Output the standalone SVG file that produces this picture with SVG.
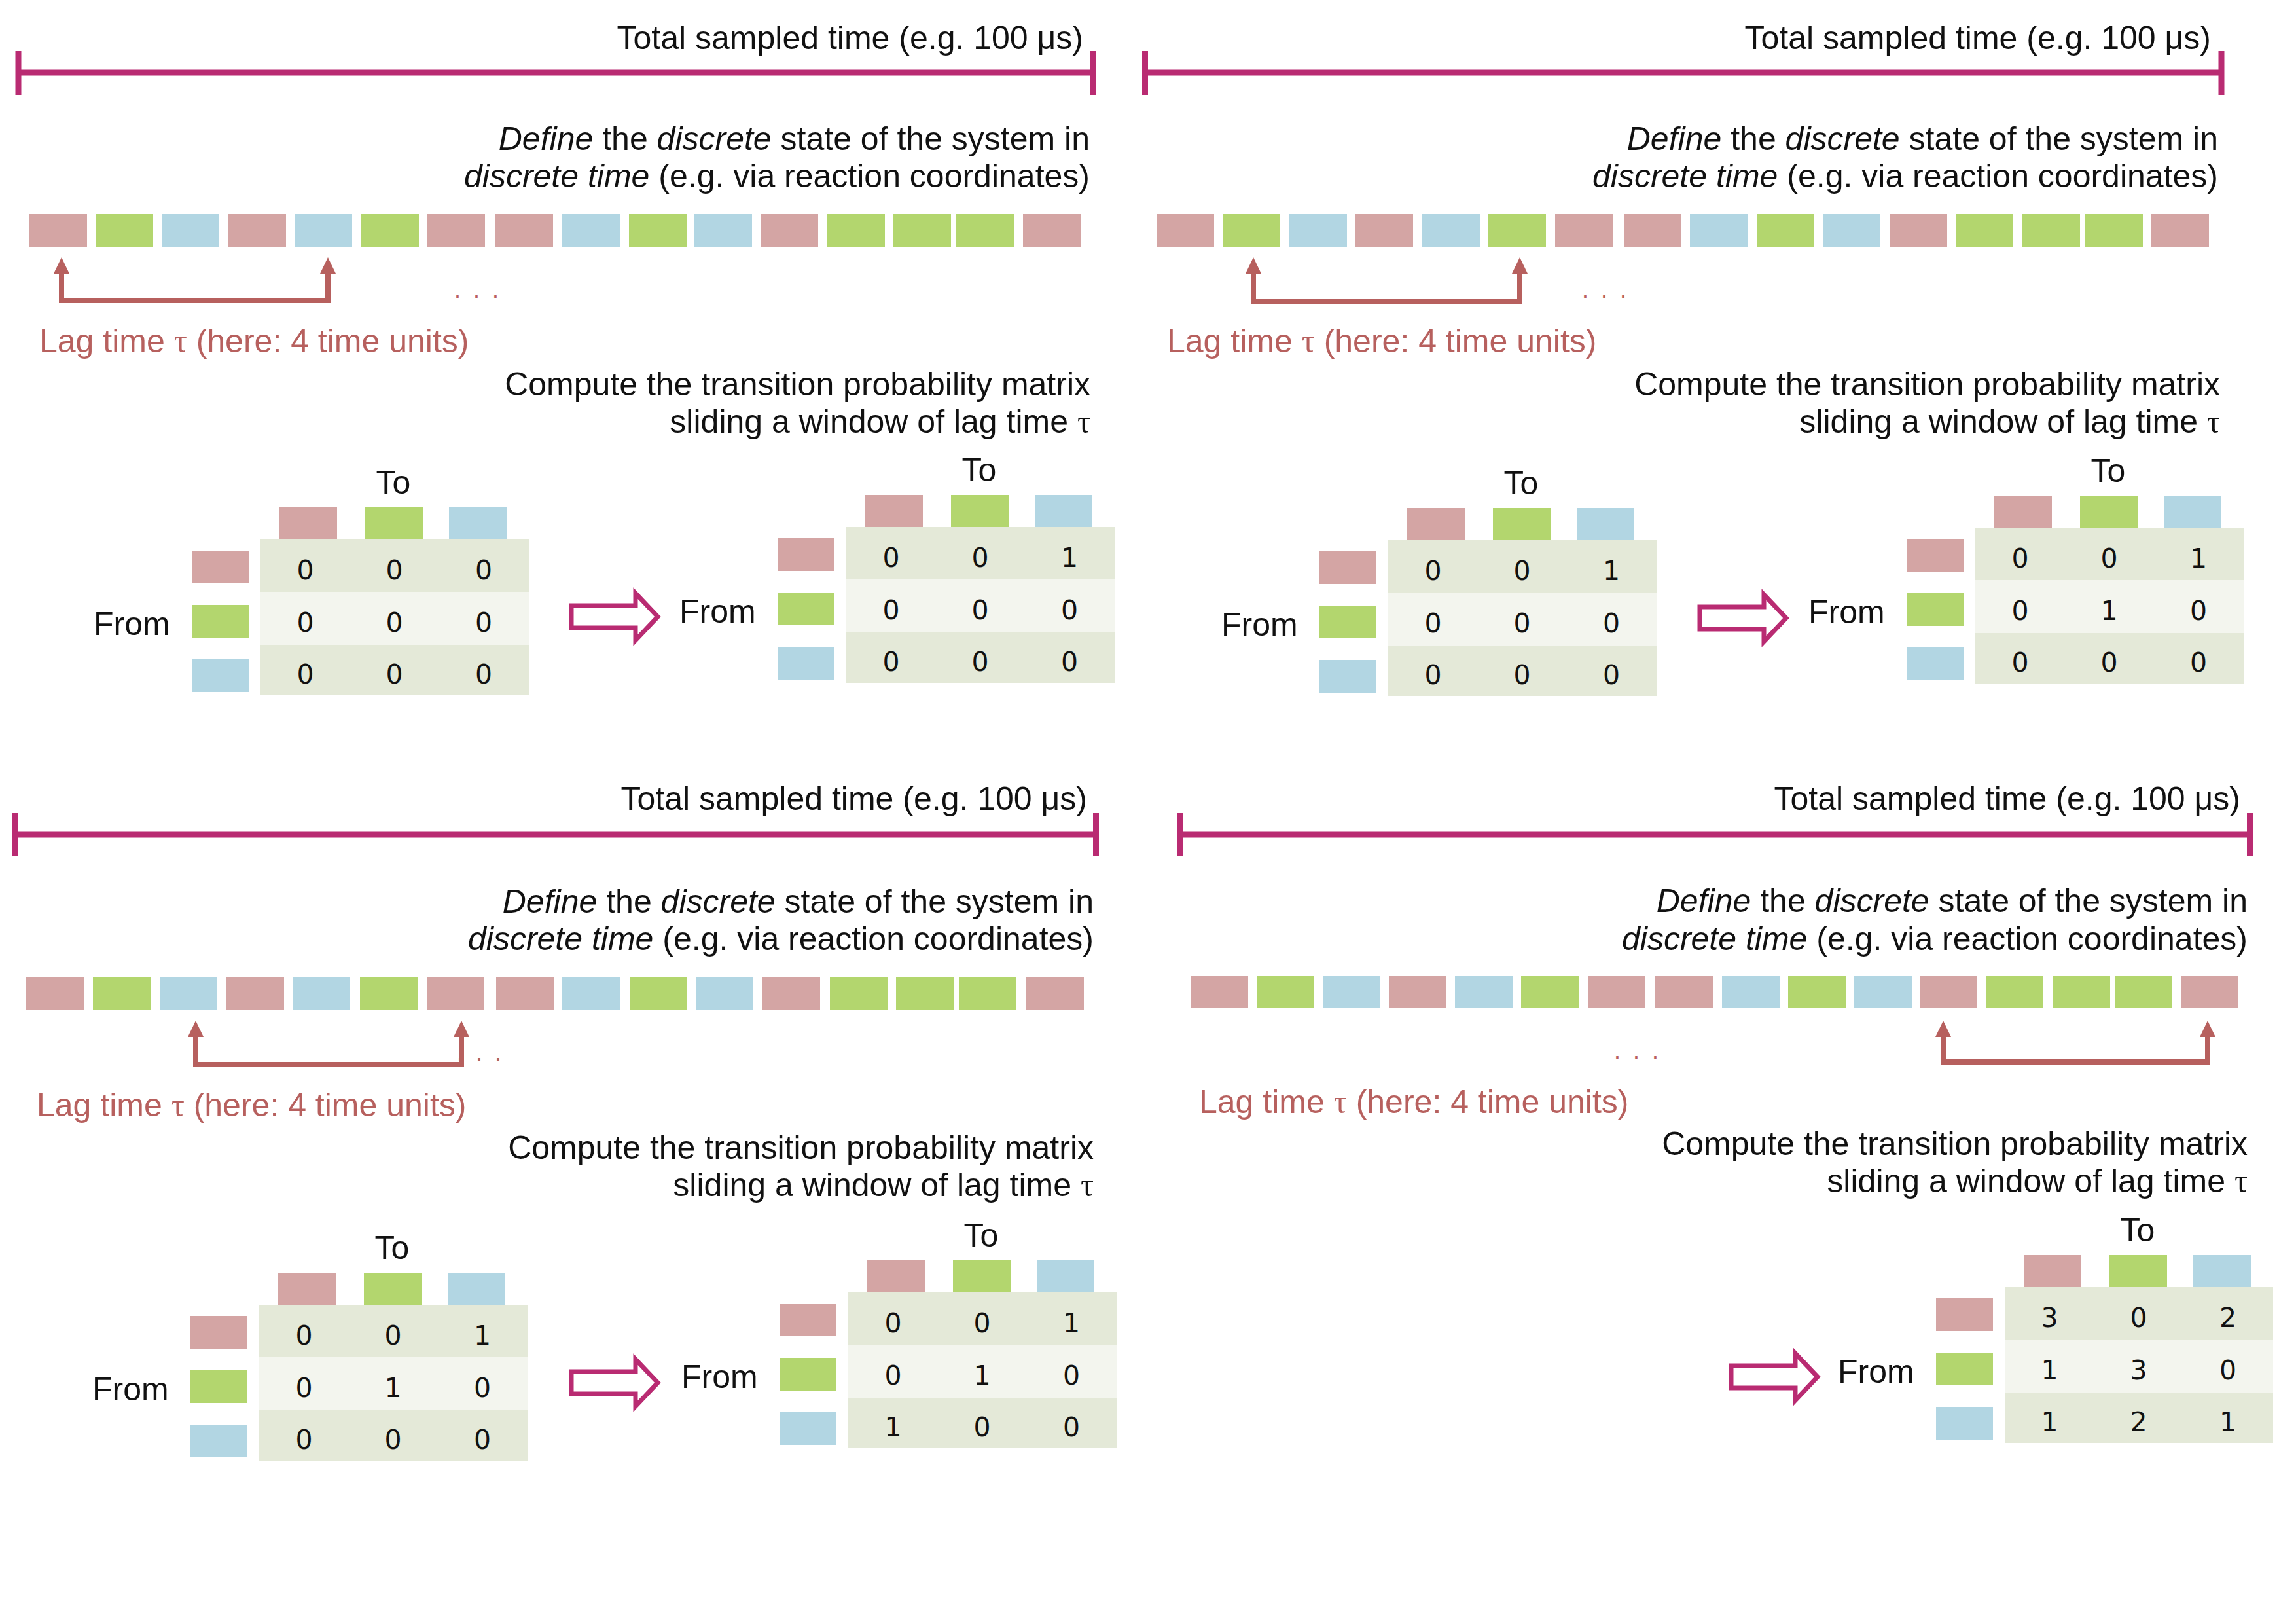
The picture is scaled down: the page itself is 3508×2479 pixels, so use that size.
<svg xmlns="http://www.w3.org/2000/svg" xmlns:xlink="http://www.w3.org/1999/xlink" width="3508" height="2479" viewBox="0 0 3508 2479">
<style>
.t{font-family:"Liberation Sans",Arial,sans-serif;font-size:50px;fill:#111}
.e{text-anchor:end}
.i{font-style:italic}
.tau{font-family:"Liberation Serif","Times New Roman",serif}
.lag{font-family:"Liberation Sans",Arial,sans-serif;font-size:50px;fill:#B7605E}
.dots{font-family:"Liberation Sans",Arial,sans-serif;font-size:36px;fill:#B7605E;letter-spacing:4.5px}
.n{font-family:"DejaVu Sans","Liberation Sans",sans-serif;font-size:41px;fill:#111;text-anchor:middle}
.mid{text-anchor:middle}
.p{fill:#D4A5A4}.g{fill:#B3D66E}.b{fill:#B2D6E3}
.ra{fill:#E4E9D8}.rb{fill:#F3F5EE}
.bar{stroke:#B92B72;stroke-width:9;fill:none}
.lagline{stroke:#B7605E;stroke-width:8;fill:none;stroke-linejoin:miter}
.laghead{fill:#B7605E}
.barrow{fill:#fff;stroke:#B92B72;stroke-width:7;stroke-linejoin:miter;stroke-miterlimit:10}
</style>
<defs>
<path id="head" d="M0 0 L-12 25 L12 25 Z"/>
<path id="blockArrow" d="M3 -17 H101 V-36 L135 0 L101 36 V17 H3 Z"/>
<g id="matrixFrame">
<rect class="ra" x="0" y="0" width="410" height="80"/>
<rect class="rb" x="0" y="80" width="410" height="81"/>
<rect class="ra" x="0" y="161" width="410" height="77"/>
<rect class="p" x="29" y="-49" width="88" height="49"/>
<rect class="g" x="160" y="-49" width="88" height="49"/>
<rect class="b" x="288" y="-49" width="88" height="49"/>
<rect class="p" x="-105" y="17" width="87" height="50"/>
<rect class="g" x="-105" y="100" width="87" height="50"/>
<rect class="b" x="-105" y="183" width="87" height="50"/>
<text class="t mid" x="203" y="-70">To</text>
<text class="t" x="-255" y="146">From</text>
</g>
</defs>

<g id="panel1">
<text id="p1-title" class="t e" x="1655" y="75">Total sampled time (e.g. 100 μs)</text>
<g id="p1-bar"><path class="bar" d="M28 111 H1669.5 M28 78 V145 M1669.5 78 V145"/></g>
<text id="p1-define1" class="t e" x="1665" y="229"><tspan class="i">Define</tspan> the <tspan class="i">discrete</tspan> state of the system in</text>
<text id="p1-define2" class="t e" x="1665" y="286"><tspan class="i">discrete time</tspan> (e.g. via reaction coordinates)</text>
<g id="p1-sequence">
<rect class="p" x="45" y="327" width="88" height="50"/><rect class="g" x="146" y="327" width="88" height="50"/><rect class="b" x="247" y="327" width="88" height="50"/><rect class="p" x="349" y="327" width="88" height="50"/><rect class="b" x="450" y="327" width="88" height="50"/><rect class="g" x="552" y="327" width="88" height="50"/><rect class="p" x="653" y="327" width="88" height="50"/><rect class="p" x="757" y="327" width="88" height="50"/><rect class="b" x="859" y="327" width="88" height="50"/><rect class="g" x="961" y="327" width="88" height="50"/><rect class="b" x="1061" y="327" width="88" height="50"/><rect class="p" x="1162" y="327" width="88" height="50"/><rect class="g" x="1264" y="327" width="88" height="50"/><rect class="g" x="1365" y="327" width="88" height="50"/><rect class="g" x="1461" y="327" width="88" height="50"/><rect class="p" x="1563" y="327" width="88" height="50"/>
</g>
<text id="p1-dots" class="dots" x="694" y="455">. . .</text>
<text id="p1-lag" class="lag" x="60" y="538">Lag time <tspan class="tau">τ</tspan> (here: 4 time units)</text>
<text id="p1-compute1" class="t e" x="1666" y="604">Compute the transition probability matrix</text>
<text id="p1-compute2" class="t e" x="1666" y="661">sliding a window of lag time <tspan class="tau">τ</tspan></text>
<g id="p1-matrixA" transform="translate(398,824)">
<use xlink:href="#matrixFrame"/>
<text class="n" x="68.5" y="61">0</text><text class="n" x="204.5" y="61">0</text><text class="n" x="341" y="61">0</text>
<text class="n" x="68.5" y="141">0</text><text class="n" x="204.5" y="141">0</text><text class="n" x="341" y="141">0</text>
<text class="n" x="68.5" y="220">0</text><text class="n" x="204.5" y="220">0</text><text class="n" x="341" y="220">0</text>
</g>
<g id="p1-matrixB" transform="translate(1293,805)">
<use xlink:href="#matrixFrame"/>
<text class="n" x="68.5" y="61">0</text><text class="n" x="204.5" y="61">0</text><text class="n" x="341" y="61">1</text>
<text class="n" x="68.5" y="141">0</text><text class="n" x="204.5" y="141">0</text><text class="n" x="341" y="141">0</text>
<text class="n" x="68.5" y="220">0</text><text class="n" x="204.5" y="220">0</text><text class="n" x="341" y="220">0</text>
</g>
</g>

<g id="panel2">
<text id="p2-title" class="t e" x="3378" y="75">Total sampled time (e.g. 100 μs)</text>
<g id="p2-bar"><path class="bar" d="M1749.5 111 H3394 M1749.5 78 V145 M3394 78 V145"/></g>
<text id="p2-define1" class="t e" x="3389" y="229"><tspan class="i">Define</tspan> the <tspan class="i">discrete</tspan> state of the system in</text>
<text id="p2-define2" class="t e" x="3389" y="286"><tspan class="i">discrete time</tspan> (e.g. via reaction coordinates)</text>
<g id="p2-sequence">
<rect class="p" x="1767" y="327" width="88" height="50"/><rect class="g" x="1868" y="327" width="88" height="50"/><rect class="b" x="1970" y="327" width="88" height="50"/><rect class="p" x="2071" y="327" width="88" height="50"/><rect class="b" x="2173" y="327" width="88" height="50"/><rect class="g" x="2274" y="327" width="88" height="50"/><rect class="p" x="2376" y="327" width="88" height="50"/><rect class="p" x="2481" y="327" width="88" height="50"/><rect class="b" x="2582" y="327" width="88" height="50"/><rect class="g" x="2684" y="327" width="88" height="50"/><rect class="b" x="2785" y="327" width="88" height="50"/><rect class="p" x="2887" y="327" width="88" height="50"/><rect class="g" x="2988" y="327" width="88" height="50"/><rect class="g" x="3090" y="327" width="88" height="50"/><rect class="g" x="3186" y="327" width="88" height="50"/><rect class="p" x="3287" y="327" width="88" height="50"/>
</g>
<text id="p2-dots" class="dots" x="2417" y="455">. . .</text>
<text id="p2-lag" class="lag" x="1783" y="538">Lag time <tspan class="tau">τ</tspan> (here: 4 time units)</text>
<text id="p2-compute1" class="t e" x="3392" y="604">Compute the transition probability matrix</text>
<text id="p2-compute2" class="t e" x="3392" y="661">sliding a window of lag time <tspan class="tau">τ</tspan></text>
<g id="p2-matrixA" transform="translate(2121,825)">
<use xlink:href="#matrixFrame"/>
<text class="n" x="68.5" y="61">0</text><text class="n" x="204.5" y="61">0</text><text class="n" x="341" y="61">1</text>
<text class="n" x="68.5" y="141">0</text><text class="n" x="204.5" y="141">0</text><text class="n" x="341" y="141">0</text>
<text class="n" x="68.5" y="220">0</text><text class="n" x="204.5" y="220">0</text><text class="n" x="341" y="220">0</text>
</g>
<g id="p2-matrixB" transform="translate(3018,806)">
<use xlink:href="#matrixFrame"/>
<text class="n" x="68.5" y="61">0</text><text class="n" x="204.5" y="61">0</text><text class="n" x="341" y="61">1</text>
<text class="n" x="68.5" y="141">0</text><text class="n" x="204.5" y="141">1</text><text class="n" x="341" y="141">0</text>
<text class="n" x="68.5" y="220">0</text><text class="n" x="204.5" y="220">0</text><text class="n" x="341" y="220">0</text>
</g>
</g>

<g id="panel3">
<text id="p3-title" class="t e" x="1661" y="1237">Total sampled time (e.g. 100 μs)</text>
<g id="p3-bar"><path class="bar" d="M23 1275 H1674.5 M23 1242 V1308 M1674.5 1242 V1308"/></g>
<text id="p3-define1" class="t e" x="1671" y="1394"><tspan class="i">Define</tspan> the <tspan class="i">discrete</tspan> state of the system in</text>
<text id="p3-define2" class="t e" x="1671" y="1451"><tspan class="i">discrete time</tspan> (e.g. via reaction coordinates)</text>
<g id="p3-sequence">
<rect class="p" x="40" y="1492" width="88" height="50"/><rect class="g" x="142" y="1492" width="88" height="50"/><rect class="b" x="244" y="1492" width="88" height="50"/><rect class="p" x="346" y="1492" width="88" height="50"/><rect class="b" x="447" y="1492" width="88" height="50"/><rect class="g" x="550" y="1492" width="88" height="50"/><rect class="p" x="652" y="1492" width="88" height="50"/><rect class="p" x="758" y="1492" width="88" height="50"/><rect class="b" x="859" y="1492" width="88" height="50"/><rect class="g" x="962" y="1492" width="88" height="50"/><rect class="b" x="1063" y="1492" width="88" height="50"/><rect class="p" x="1165" y="1492" width="88" height="50"/><rect class="g" x="1268" y="1492" width="88" height="50"/><rect class="g" x="1369" y="1492" width="88" height="50"/><rect class="g" x="1465" y="1492" width="88" height="50"/><rect class="p" x="1568" y="1492" width="88" height="50"/>
</g>
<text id="p3-dots" class="dots" x="698" y="1620">. . .</text>
<text id="p3-lag" class="lag" x="56" y="1705">Lag time <tspan class="tau">τ</tspan> (here: 4 time units)</text>
<text id="p3-compute1" class="t e" x="1671" y="1770">Compute the transition probability matrix</text>
<text id="p3-compute2" class="t e" x="1671" y="1827">sliding a window of lag time <tspan class="tau">τ</tspan></text>
<g id="p3-matrixA" transform="translate(396,1993)">
<use xlink:href="#matrixFrame"/>
<text class="n" x="68.5" y="61">0</text><text class="n" x="204.5" y="61">0</text><text class="n" x="341" y="61">1</text>
<text class="n" x="68.5" y="141">0</text><text class="n" x="204.5" y="141">1</text><text class="n" x="341" y="141">0</text>
<text class="n" x="68.5" y="220">0</text><text class="n" x="204.5" y="220">0</text><text class="n" x="341" y="220">0</text>
</g>
<g id="p3-matrixB" transform="translate(1296,1974)">
<use xlink:href="#matrixFrame"/>
<text class="n" x="68.5" y="61">0</text><text class="n" x="204.5" y="61">0</text><text class="n" x="341" y="61">1</text>
<text class="n" x="68.5" y="141">0</text><text class="n" x="204.5" y="141">1</text><text class="n" x="341" y="141">0</text>
<text class="n" x="68.5" y="220">1</text><text class="n" x="204.5" y="220">0</text><text class="n" x="341" y="220">0</text>
</g>
</g>

<g id="panel4">
<text id="p4-title" class="t e" x="3423" y="1237">Total sampled time (e.g. 100 μs)</text>
<g id="p4-bar"><path class="bar" d="M1802.5 1275 H3437.5 M1802.5 1242 V1308 M3437.5 1242 V1308"/></g>
<text id="p4-define1" class="t e" x="3434" y="1393"><tspan class="i">Define</tspan> the <tspan class="i">discrete</tspan> state of the system in</text>
<text id="p4-define2" class="t e" x="3434" y="1451"><tspan class="i">discrete time</tspan> (e.g. via reaction coordinates)</text>
<g id="p4-sequence">
<rect class="p" x="1819" y="1490" width="88" height="50"/><rect class="g" x="1920" y="1490" width="88" height="50"/><rect class="b" x="2021" y="1490" width="88" height="50"/><rect class="p" x="2122" y="1490" width="88" height="50"/><rect class="b" x="2223" y="1490" width="88" height="50"/><rect class="g" x="2324" y="1490" width="88" height="50"/><rect class="p" x="2426" y="1490" width="88" height="50"/><rect class="p" x="2529" y="1490" width="88" height="50"/><rect class="b" x="2631" y="1490" width="88" height="50"/><rect class="g" x="2732" y="1490" width="88" height="50"/><rect class="b" x="2833" y="1490" width="88" height="50"/><rect class="p" x="2933" y="1490" width="88" height="50"/><rect class="g" x="3034" y="1490" width="88" height="50"/><rect class="g" x="3136" y="1490" width="88" height="50"/><rect class="g" x="3231" y="1490" width="88" height="50"/><rect class="p" x="3332" y="1490" width="88" height="50"/>
</g>
<text id="p4-dots" class="dots" x="2466" y="1617">. . .</text>
<text id="p4-lag" class="lag" x="1832" y="1700">Lag time <tspan class="tau">τ</tspan> (here: 4 time units)</text>
<text id="p4-compute1" class="t e" x="3434" y="1764">Compute the transition probability matrix</text>
<text id="p4-compute2" class="t e" x="3434" y="1821">sliding a window of lag time <tspan class="tau">τ</tspan></text>
<g id="p4-matrixB" transform="translate(3063,1966)">
<use xlink:href="#matrixFrame"/>
<text class="n" x="68.5" y="61">3</text><text class="n" x="204.5" y="61">0</text><text class="n" x="341" y="61">2</text>
<text class="n" x="68.5" y="141">1</text><text class="n" x="204.5" y="141">3</text><text class="n" x="341" y="141">0</text>
<text class="n" x="68.5" y="220">1</text><text class="n" x="204.5" y="220">2</text><text class="n" x="341" y="220">1</text>
</g>
</g>

<g id="connectors">
<g id="lag1"><path class="lagline" d="M94 413 V459 H501 V413"/><use xlink:href="#head" class="laghead" x="94" y="393"/><use xlink:href="#head" class="laghead" x="501" y="393"/></g>
<g id="lag2"><path class="lagline" d="M1915 413 V460 H2322 V413"/><use xlink:href="#head" class="laghead" x="1915" y="393"/><use xlink:href="#head" class="laghead" x="2322" y="393"/></g>
<g id="lag3"><path class="lagline" d="M299 1579 V1626 H705 V1579"/><use xlink:href="#head" class="laghead" x="299" y="1559"/><use xlink:href="#head" class="laghead" x="705" y="1559"/></g>
<g id="lag4"><path class="lagline" d="M2969 1579 V1622 H3373 V1579"/><use xlink:href="#head" class="laghead" x="2969" y="1559"/><use xlink:href="#head" class="laghead" x="3373" y="1559"/></g>
<use id="arrow1" xlink:href="#blockArrow" class="barrow" transform="translate(870,942)"/>
<use id="arrow2" xlink:href="#blockArrow" class="barrow" transform="translate(2594,944)"/>
<use id="arrow3" xlink:href="#blockArrow" class="barrow" transform="translate(870,2112)"/>
<use id="arrow4" xlink:href="#blockArrow" class="barrow" transform="translate(2642,2103)"/>
</g>
</svg>
